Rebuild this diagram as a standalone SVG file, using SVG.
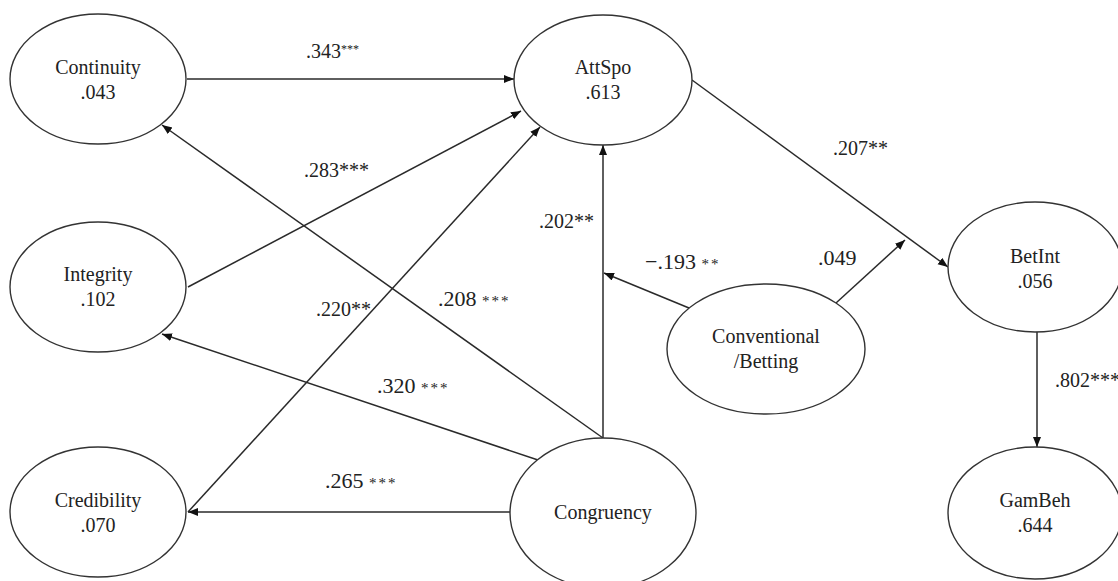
<svg xmlns="http://www.w3.org/2000/svg" width="1118" height="581" viewBox="0 0 1118 581">
<style>
.node ellipse{fill:#fff;stroke:#333;stroke-width:1.4}
.nt{font-family:'Liberation Serif','DejaVu Serif',serif;font-size:20px;fill:#222;text-anchor:middle}
.conn line{stroke:#2a2a2a;stroke-width:1.5;fill:none}
.lb{font-family:'Liberation Serif','DejaVu Serif',serif;font-size:20px;fill:#222}
.lm{font-family:'Liberation Serif','DejaVu Serif',serif;font-size:22px;fill:#222}
.st{font-size:15px;letter-spacing:2px}
</style>
<defs>
<marker id="ah" markerUnits="userSpaceOnUse" markerWidth="11" markerHeight="9" refX="10" refY="4" orient="auto">
<path d="M0,0 L10,4 L0,8 z" fill="#111"/>
</marker>
</defs>
<rect width="1118" height="581" fill="#fff"/>
<g class="conn">
<line x1="187" y1="79" x2="514" y2="79" marker-end="url(#ah)"/>
<line x1="188" y1="287" x2="521" y2="111" marker-end="url(#ah)"/>
<line x1="603" y1="438" x2="162" y2="125" marker-end="url(#ah)"/>
<line x1="188" y1="512" x2="540" y2="127" marker-end="url(#ah)"/>
<line x1="538" y1="460" x2="162" y2="334" marker-end="url(#ah)"/>
<line x1="603" y1="438" x2="603" y2="145" marker-end="url(#ah)"/>
<line x1="510" y1="512" x2="188" y2="512" marker-end="url(#ah)"/>
<line x1="689" y1="308" x2="604" y2="273" marker-end="url(#ah)"/>
<line x1="836" y1="303" x2="905" y2="240" marker-end="url(#ah)"/>
<line x1="692" y1="80" x2="948" y2="267" marker-end="url(#ah)"/>
<line x1="1037" y1="332" x2="1037" y2="447" marker-end="url(#ah)"/>
</g>
<g font-family="Liberation Serif, DejaVu Serif, serif">
<g id="continuity" class="node"><ellipse cx="98" cy="79" rx="88" ry="65"/><text class="nt" x="98" y="74">Continuity</text><text class="nt" x="98" y="99">.043</text></g>
<g id="attspo" class="node"><ellipse cx="603" cy="80" rx="89" ry="65"/><text class="nt" x="603" y="74">AttSpo</text><text class="nt" x="603" y="99">.613</text></g>
<g id="integrity" class="node"><ellipse cx="98" cy="287" rx="88" ry="65"/><text class="nt" x="98" y="281">Integrity</text><text class="nt" x="98" y="306">.102</text></g>
<g id="credibility" class="node"><ellipse cx="98" cy="512" rx="88" ry="65"/><text class="nt" x="98" y="507">Credibility</text><text class="nt" x="98" y="532">.070</text></g>
<g id="congruency" class="node"><ellipse cx="603" cy="513" rx="93" ry="75"/><text class="nt" x="603" y="519">Congruency</text></g>
<g id="conventional" class="node"><ellipse cx="766" cy="349" rx="99" ry="65"/><text class="nt" x="766" y="343">Conventional</text><text class="nt" x="766" y="368">/Betting</text></g>
<g id="betint" class="node"><ellipse cx="1035" cy="267" rx="87" ry="65"/><text class="nt" x="1035" y="263">BetInt</text><text class="nt" x="1035" y="288">.056</text></g>
<g id="gambeh" class="node"><ellipse cx="1035" cy="513" rx="87" ry="66"/><text class="nt" x="1035" y="507">GamBeh</text><text class="nt" x="1035" y="532">.644</text></g>
<g id="labels">
<text class="lb" x="306" y="58">.343<tspan font-size="12" dy="-5">***</tspan></text>
<text class="lb" x="304" y="177">.283***</text>
<text class="lb" x="833" y="155">.207**</text>
<text class="lm" x="818" y="265">.049</text>
<text class="lm" x="645" y="269">−.193 <tspan class="st">**</tspan></text>
<text class="lb" x="539" y="228">.202**</text>
<text class="lm" x="438" y="306">.208 <tspan class="st">***</tspan></text>
<text class="lb" x="316" y="316">.220**</text>
<text class="lm" x="377" y="393">.320 <tspan class="st">***</tspan></text>
<text class="lm" x="325" y="488">.265 <tspan class="st">***</tspan></text>
<text class="lb" x="1055" y="387">.802***</text>
</g>
</g>
</svg>
